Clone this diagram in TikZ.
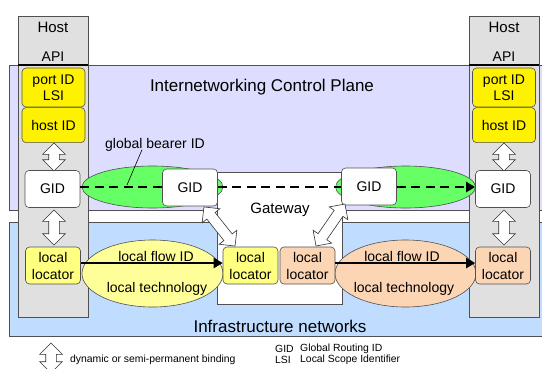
\documentclass[tikz,border=0pt]{standalone}
\usepackage{fontspec}
\setmainfont{Liberation Sans}
\usepackage{xcolor}
\usepackage{tikz}
\usetikzlibrary{arrows.meta,shapes.arrows,positioning,calc}

\definecolor{planeblue}{RGB}{221,221,255}
\definecolor{infrablue}{RGB}{192,221,255}
\definecolor{hostgray}{RGB}{224,224,224}
\definecolor{locyellow}{RGB}{255,255,128}
\definecolor{flowyellow}{RGB}{255,255,153}
\definecolor{peach}{RGB}{252,213,180}
\definecolor{bearergreen}{RGB}{102,255,102}
\definecolor{edgegray}{RGB}{80,80,80}

\newcommand{\boxfont}{\fontsize{14}{17}\selectfont}
\newcommand{\titlefont}{\fontsize{17}{20}\selectfont}
\newcommand{\legendfont}{\fontsize{10.4}{12}\selectfont}

\begin{document}
\begin{tikzpicture}[x=1pt, y=-1pt,
    frame/.style={draw=edgegray, line width=0.6pt},
    box/.style={frame, rounded corners=4pt, minimum width=55pt, minimum height=37pt,
      inner sep=0pt, align=center, font=\boxfont},
    idbox/.style={box, fill=yellow, minimum width=63pt},
    gidbox/.style={box, fill=white},
    locbox/.style={box, fill=locyellow},
    peachbox/.style={box, fill=peach},
    bind/.style={double arrow, draw=black!80, line width=0.6pt, fill=white, inner sep=5pt,
      double arrow head extend=6pt, minimum height=#1},
    bind/.default=30pt,
    bearer/.style={line width=2.2pt, dash pattern=on 9pt off 5.5pt},
    flow/.style={line width=2.2pt},
    tip/.style={-{Triangle[length=9pt,width=10pt]}},
    txt/.style={font=\boxfont, inner sep=0pt},
    title/.style={font=\titlefont, inner sep=0pt},
  ]
  \useasboundingbox (0,0) rectangle (544,368);
  % Planes
  \fill[planeblue] (9,65) rectangle (542,210);
  \draw[frame] (542,65) -- (9,65) -- (9,210) -- (542,210);
  \fill[infrablue] (9,222) rectangle (542,336);
  \draw[frame] (542,222) -- (9,222) -- (9,336) -- (542,336);
  % Hosts
  \draw[frame, fill=hostgray] (18,16) rectangle (88,317);
  \draw[frame, fill=hostgray] (469,16) rectangle (539,317);
  \draw[line width=2pt] (18,65) -- (88,65);
  \draw[line width=2pt] (469,65) -- (539,65);
  % Gateway
  \draw[frame, fill=white] (217,172) rectangle (342,304);
  % Bearers and flows
  \draw[frame, fill=bearergreen] (152.5,187) ellipse [x radius=70.5, y radius=21];
  \draw[frame, fill=bearergreen] (405.5,187) ellipse [x radius=70, y radius=21];
  \draw[frame, fill=flowyellow] (152.5,273.5) ellipse [x radius=70.5, y radius=33.5];
  \draw[frame, fill=peach] (405.5,273.5) ellipse [x radius=70.5, y radius=33.5];

  % Left host stack
  \node[idbox, minimum height=39pt] (portL) at (53.5,87.5) {port ID\\[-1pt]LSI};
  \node[idbox, minimum height=35pt, below=0pt of portL] (hostidL) {host ID};
  \node[gidbox] (gidL) at (52.5,189) {GID};
  \node[locbox] (locL) at (53,265.5) {local\\locator};
  % Right host stack
  \node[idbox, minimum height=39pt] (portR) at (504,87.5) {port ID\\[-1pt]LSI};
  \node[idbox, minimum height=35pt, below=0pt of portR] (hostidR) {host ID};
  \node[gidbox] (gidR) at (503,189) {GID};
  \node[peachbox] (locR) at (503,265.5) {local\\locator};
  % Gateway boxes
  \node[gidbox] (gidA) at (190,187.5) {GID};
  \node[gidbox] (gidB) at (369,186.5) {GID};
  \node[locbox] (gwlocY) at (250.5,265.5) {local\\locator};
  \node[peachbox] (gwlocO) at (307.5,265.5) {local\\locator};

  % Global bearer ID
  \draw[bearer] (gidL.east |- 0,187) -- (gidA.west |- 0,187);
  \draw[bearer] (gidA.east |- 0,187) -- (gidB.west |- 0,187);
  \draw[bearer, tip] (gidB.east |- 0,187) -- (gidR.west |- 0,187);
  % Local flow IDs
  \draw[flow, tip] (locL.east |- 0,263) -- (gwlocY.west |- 0,263);
  \draw[flow, tip] (gwlocO.east |- 0,263) -- (locR.west |- 0,263);

  % Bindings
  \node[bind=28pt, rotate=90] (bindL1) at (54,157) {};
  \node[bind=35pt, rotate=90] (bindL2) at (54,227.5) {};
  \node[bind=28pt, rotate=90] (bindR1) at (504,157) {};
  \node[bind=35pt, rotate=90] (bindR2) at (504,227.5) {};
  \node[bind=50pt, rotate=-51.5] (bindGA) at (219.5,226.5) {};
  \node[bind=51pt, rotate=55.4] (bindGB) at (330.5,225) {};

  % Texts
  \node[title] (hostL) at (53,27) {\fontsize{15}{17}\selectfont Host};
  \node[txt] (apiL) at (53,57) {API};
  \node[title] (hostR) at (504,27) {\fontsize{15}{17}\selectfont Host};
  \node[txt] (apiR) at (504,57) {API};
  \node[title] (plane) at (262,87) {Internetworking Control Plane};
  \node[title] (infra) at (280,326) {Infrastructure networks};
  \node[txt, font=\fontsize{15}{17}\selectfont] (gwlbl) at (280,210) {Gateway};
  \node[txt] (bearerlbl) at (155,145) {global bearer ID};
  \coordinate (bearerpt) at (127,185);
  \draw[line width=0.6pt] ([xshift=-13pt,yshift=2pt]bearerlbl.south) -- (bearerpt);
  \node[txt] (flowL) at (156,256) {local flow ID};
  \node[txt] (techL) at (157,289) {local technology};
  \node[txt] (flowR) at (402,256) {local flow ID};
  \node[txt] (techR) at (404,289) {local technology};

  % Legend
  \node[bind=30pt, rotate=90] (bindkey) at (51,358) {};
  \node[anchor=west, font=\legendfont, inner sep=0pt] (bindtxt) at (70,360) {dynamic or semi-permanent binding};
  \node[anchor=west, font=\legendfont, inner sep=0pt] (gidkey) at (275,349) {GID};
  \node[anchor=west, font=\legendfont, inner sep=0pt] (gidtxt) at (300,349) {Global Routing ID};
  \node[anchor=west, font=\legendfont, inner sep=0pt] (lsikey) at (275,360) {LSI};
  \node[anchor=west, font=\legendfont, inner sep=0pt] (lsitxt) at (300,360) {Local Scope Identifier};
\end{tikzpicture}
\end{document}
